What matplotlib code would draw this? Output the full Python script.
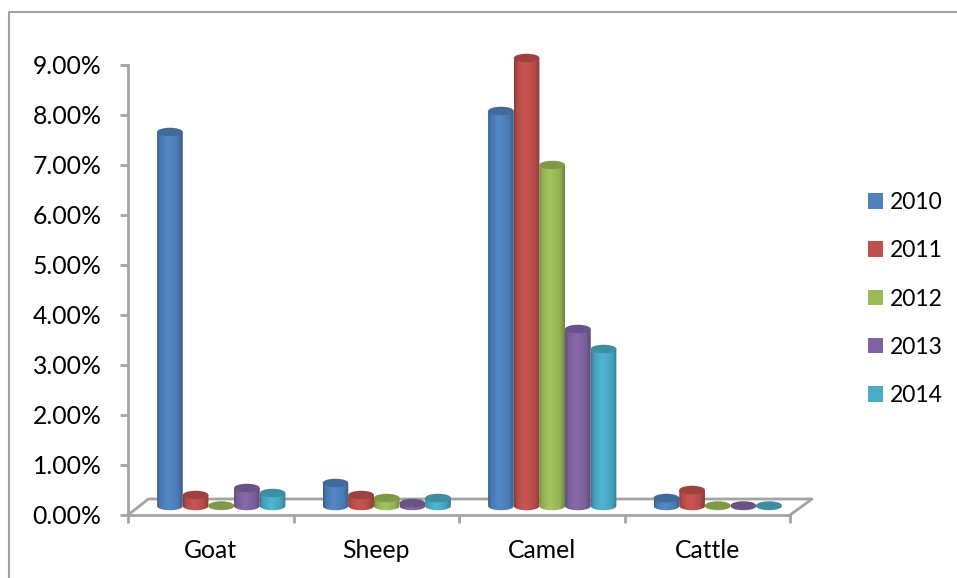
#!/usr/bin/env python3

import numpy as np
import matplotlib
matplotlib.use("Agg")
import matplotlib.pyplot as plt
from matplotlib.colors import to_rgb
from matplotlib.lines import Line2D
from matplotlib.patches import Ellipse, Patch
from matplotlib.path import Path

plt.rcParams['font.family'] = ['Lato', 'DejaVu Sans']

animals = ['Goat', 'Sheep', 'Camel', 'Cattle']
years = ['2010', '2011', '2012', '2013', '2014']
y2010 = [7.48, 0.46, 7.90, 0.16]
y2011 = [0.22, 0.22, 8.96, 0.32]
y2012 = [0.01, 0.16, 6.82, 0.01]
y2013 = [0.36, 0.06, 3.54, 0.01]
y2014 = [0.26, 0.16, 3.14, 0.01]
series = [y2010, y2011, y2012, y2013, y2014]
colors = ['#4f81bd', '#c0504d', '#9bbb59', '#8064a2', '#4bacc6']

W, H = 957, 578
GRAY = '#a3a3a3'
# plot box in pixels, the floor runs back from it
LEFT, RIGHT, TOP, BOTTOM = 128, 790, 65, 515
BAR_W = 0.155
DEPTH_X, DEPTH_Y = 0.0634, 0.18  # where the bars stand on the floor
CAP_H = 0.17


def shade(color, f):
    return tuple(min(1, c * f) for c in to_rgb(color))


def cylinder(fig, ax, xc, val, color, z):
    x0, x1 = xc - BAR_W / 2, xc + BAR_W / 2
    base = DEPTH_Y
    top = base + val
    # round side with dark edges and a lighter middle
    t = np.linspace(0, 1, 40)
    f = np.interp(t, [0, 0.1, 0.42, 0.82, 1], [0.72, 0.92, 1.06, 0.94, 0.72])
    grad = np.array([[shade(color, v) for v in f]])
    im = ax.imshow(grad, extent=[x0, x1, base - CAP_H, top], aspect='auto',
                   interpolation='bilinear', zorder=z)
    th = np.linspace(np.pi, 2 * np.pi, 30)
    xs = xc + BAR_W / 2 * np.cos(th)
    ys = base + CAP_H / 2 * np.sin(th)
    outline = np.column_stack([np.r_[xs, x1, x0, x0], np.r_[ys, top, top, ys[0]]])
    # the tallest bar pokes out above the axes
    im.set_clip_box(fig.bbox)
    im.set_clip_path(Path(outline), ax.transData)
    cap = Ellipse((xc, top), BAR_W, CAP_H, facecolor=shade(color, 0.82),
                  edgecolor='none', zorder=z + 0.5, clip_on=False)
    ax.add_patch(cap)


def main():
    fig = plt.figure(figsize=(W / 100, H / 100), dpi=100)
    ax = fig.add_axes([LEFT / W, 1 - BOTTOM / H, (RIGHT - LEFT) / W, (BOTTOM - TOP) / H])
    ax.patch.set_alpha(0)

    # outer frame of the chart area
    fig.add_artist(Line2D([9 / W, 9 / W, 1], [0, 1 - 12 / H, 1 - 12 / H], color=GRAY, lw=1.5))

    for i in range(len(animals)):
        for j, vals in enumerate(series):
            xc = i + 0.5 + DEPTH_X + (j - 2) * BAR_W
            cylinder(fig, ax, xc, vals[i], colors[j], 3 + j)

    # floor of the plot
    dx, dy = 22 / 165.5, 16 / 50
    ax.plot([0, dx - 0.01, 4 + dx, 4], [0, dy, dy, 0], color=GRAY, lw=2, clip_on=False, zorder=2)

    ax.set_xlim(0, 4)
    ax.set_ylim(0, 9)
    ax.set_yticks(range(10))
    ax.set_yticklabels(['%.2f%%' % v for v in range(10)], fontsize=17.8, color='black')
    ax.set_xticks(range(5))
    ax.set_xticklabels([])
    ax.set_xticks(np.arange(4) + 0.5, animals, minor=True, fontsize=17.8)
    ax.tick_params(axis='x', which='minor', length=0, pad=17.5)
    ax.tick_params(axis='both', which='major', length=6, width=2, color=GRAY)
    ax.tick_params(axis='y', pad=13)
    for s in ['top', 'right']:
        ax.spines[s].set_visible(False)
    for s in ['left', 'bottom']:
        ax.spines[s].set_color(GRAY)
        ax.spines[s].set_linewidth(2)

    handles = [Patch(facecolor=c, edgecolor='none', label=y) for c, y in zip(colors, years)]
    fig.legend(handles=handles, loc='center left', bbox_to_anchor=(868 / W, 1 - 299 / H),
               frameon=False, fontsize=16.5, labelspacing=1.19, handlelength=0.66,
               handleheight=0.66, handletextpad=0.3, borderpad=0, borderaxespad=0)

    fig.savefig('out.png', dpi=100)


if __name__ == "__main__":
    main()
